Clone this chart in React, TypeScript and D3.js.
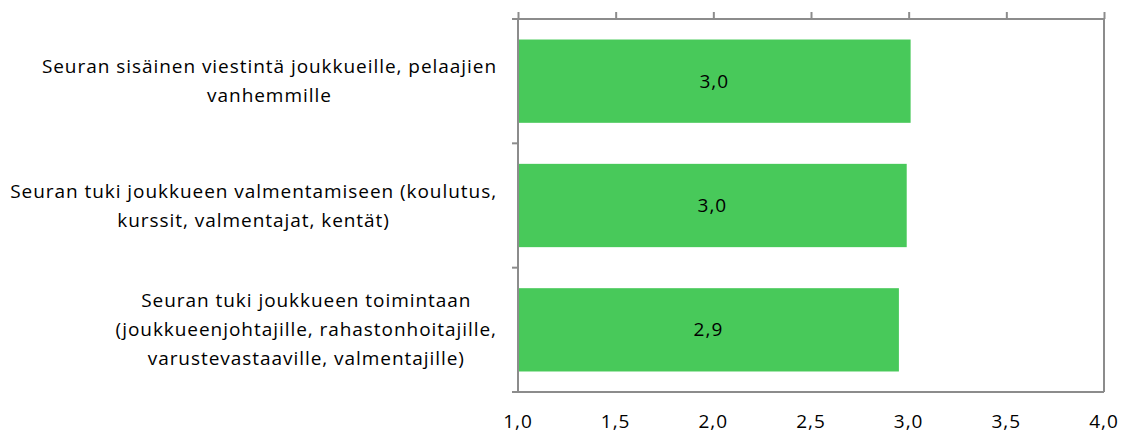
import { useEffect, useRef } from "react"
import * as d3 from "d3"

const categories: string[][] = [
  ["Seuran sisäinen viestintä joukkueille, pelaajien", "vanhemmille"],
  ["Seuran tuki joukkueen valmentamiseen (koulutus,", "kurssit, valmentajat, kentät)"],
  ["Seuran tuki joukkueen toimintaan", "(joukkueenjohtajille, rahastonhoitajille,", "varustevastaaville, valmentajille)"],
]
const values = [3.01, 2.99, 2.95]
const valueLabels = ["3,0", "3,0", "2,9"]
const xTicks = [1.0, 1.5, 2.0, 2.5, 3.0, 3.5, 4.0]

const width = 1131
const height = 435
const font = "'Open Sans', 'DejaVu Sans', sans-serif"

export default function App() {
  const svgRef = useRef<SVGSVGElement>(null)

  useEffect(() => {
    const svg = d3.select(svgRef.current)
    svg.selectAll("*").remove()

    const margin = { top: 19, right: 27, bottom: 43, left: 518 }
    const innerWidth = width - margin.left - margin.right
    const innerHeight = height - margin.top - margin.bottom
    const axisColor = "#8c8c8c"

    const x = d3.scaleLinear().domain([1, 4]).range([0, innerWidth])
    const y = d3
      .scaleBand<number>()
      .domain(d3.range(categories.length))
      .range([0, innerHeight])
      .paddingInner(0.33)
      .paddingOuter(0.165)

    const g = svg.append("g").attr("transform", `translate(${margin.left},${margin.top})`)

    // bars
    g.selectAll(".bar")
      .data(values)
      .enter()
      .append("rect")
      .attr("x", 0)
      .attr("y", (_d, i) => y(i) as number)
      .attr("width", (d) => x(d))
      .attr("height", y.bandwidth())
      .attr("fill", "#48c95a")

    // value labels
    g.selectAll(".val")
      .data(values)
      .enter()
      .append("text")
      .attr("x", (d) => x(d) / 2)
      .attr("y", (_d, i) => (y(i) as number) + y.bandwidth() / 2)
      .attr("dy", "0.35em")
      .attr("text-anchor", "middle")
      .style("font-family", font)
      .style("font-size", "19px")
      .style("letter-spacing", "1px")
      .attr("fill", "#000")
      .text((_d, i) => valueLabels[i])

    // frame lines
    g.append("line").attr("x1", innerWidth).attr("x2", innerWidth).attr("y1", 0).attr("y2", innerHeight)
      .attr("stroke", axisColor).attr("stroke-width", 2)
    g.append("line").attr("x1", -6).attr("x2", innerWidth).attr("y1", innerHeight).attr("y2", innerHeight)
      .attr("stroke", axisColor).attr("stroke-width", 2)

    // top axis with tick marks
    const top = g.append("g").call(d3.axisTop(x).tickValues(xTicks).tickSize(7).tickSizeOuter(0).tickFormat(() => ""))
    top.select(".domain").remove()
    top.selectAll(".tick line").attr("stroke", axisColor).attr("stroke-width", 2)
    g.append("line").attr("x1", -6).attr("x2", innerWidth).attr("y1", 0).attr("y2", 0)
      .attr("stroke", axisColor).attr("stroke-width", 2)

    // bottom tick labels
    g.append("g")
      .selectAll("text")
      .data(xTicks)
      .enter()
      .append("text")
      .attr("x", (d) => x(d))
      .attr("y", innerHeight + 36)
      .attr("text-anchor", "middle")
      .style("font-family", font)
      .style("font-size", "19px")
      .style("letter-spacing", "1px")
      .attr("fill", "#000")
      .text((d) => d3.format(".1f")(d).replace(".", ","))

    // left axis with ticks at category boundaries
    const step = innerHeight / categories.length
    g.append("line").attr("x1", 0).attr("x2", 0).attr("y1", 0).attr("y2", innerHeight)
      .attr("stroke", axisColor).attr("stroke-width", 2)
    g.selectAll(".ltick")
      .data(d3.range(1, categories.length))
      .enter()
      .append("line")
      .attr("x1", -6)
      .attr("x2", 0)
      .attr("y1", (d) => d * step)
      .attr("y2", (d) => d * step)
      .attr("stroke", axisColor)
      .attr("stroke-width", 2)

    // category labels: block right edge fixed, lines centred in block
    const lineH = 29
    const rightEdge = -21
    categories.forEach((lines, i) => {
      const cy = (y(i) as number) + y.bandwidth() / 2
      const t = g.append("text")
        .attr("text-anchor", "middle")
        .style("font-family", font)
        .style("font-size", "19px")
        .style("letter-spacing", "0.95px")
        .attr("fill", "#000")
      lines.forEach((ln, j) => {
        t.append("tspan")
          .attr("y", cy + (j - (lines.length - 1) / 2) * lineH)
          .attr("dy", "0.35em")
          .text(ln)
      })
      let maxW = 0
      t.selectAll<SVGTSpanElement, unknown>("tspan").each(function () {
        maxW = Math.max(maxW, this.getComputedTextLength())
      })
      t.selectAll("tspan").attr("x", rightEdge - maxW / 2)
    })
  }, [])

  return (
    <svg
      ref={svgRef}
      width={width}
      height={height}
      style={{ position: "absolute", left: 0, top: 0, background: "#fff" }}
    />
  )
}
